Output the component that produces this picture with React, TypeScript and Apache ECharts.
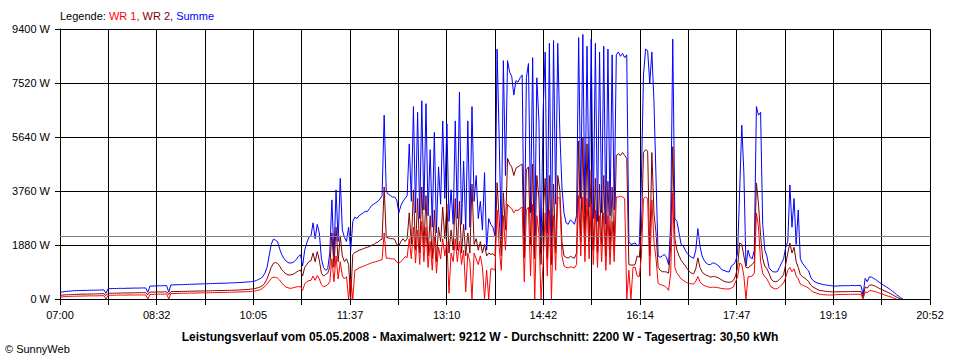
import React, { useEffect, useRef } from "react";
import * as echarts from "echarts";

// Sampling: one reading every 2 minutes, starting at 07:00
const STEP_MIN = 2;
const X_MAX_MIN = 832; // 07:00 .. 20:52
const X_TICK_COUNT = 18;
const X_TICK_LABELS = ["07:00", "08:32", "10:05", "11:37", "13:10", "14:42", "16:14", "17:47", "19:19", "20:52"];
const Y_MAX = 9400;
const Y_STEP = 1880;

const DAY = "05.05.2008";
const MAX_W = 9212;
const AVERAGE_W = 2200;
const YIELD_KWH = "30,50";

// WR 1 (red), W
const wr1 = [
  70, 75, 80, 85, 90, 90, 95, 95, 100, 100,
  100, 105, 105, 105, 110, 110, 110, 110, 110, 115,
  115, 115, 0, 130, 130, 130, 130, 135, 135, 135,
  135, 135, 135, 140, 140, 140, 140, 140, 140, 140,
  140, 140, 0, 160, 160, 165, 165, 165, 170, 170,
  170, 175, 0, 190, 190, 190, 195, 195, 195, 200,
  200, 200, 205, 205, 205, 210, 210, 210, 215, 215,
  215, 220, 220, 220, 225, 225, 225, 230, 230, 230,
  235, 235, 235, 240, 240, 245, 245, 250, 250, 255,
  255, 260, 265, 270, 290, 310, 330, 380, 440, 520,
  620, 720, 760, 750, 730, 660, 560, 480, 420, 390,
  372, 380, 400, 420, 430, 430, 300, 520, 600, 640,
  650, 800, 650, 820, 700, 500, 420, 450, 500, 600,
  1400, 600, 1500, 700, 1300, 800, 700, 780, 0, 700,
  0, 1000, 1030, 1080, 1110, 1140, 1170, 1200, 1230, 1260,
  1280, 1300, 1320, 1350, 1370, 2300, 1420, 1420, 1400, 1400,
  1390, 1280, 1240, 1300, 1380, 1470, 1450, 2100, 1400, 2500,
  1250, 2400, 1200, 2700, 1300, 2500, 1100, 2000, 1000, 2200,
  900, 1800, 1400, 2100, 1500, 2000, 200, 1600, 1300, 2100,
  1300, 2000, 1200, 1700, 250, 1600, 1300, 0, 1600, 1400,
  1200, 1500, 1100, 0, 1000, 0, 1050, 1050, 1000, 3100,
  1800, 1000, 2900, 1700, 3300, 3200, 3150, 3000, 3100, 3080,
  3150, 3200, 600, 3100, 3200, 800, 3300, 0, 2900, 2300,
  0, 1200, 3000, 800, 3100, 0, 2900, 1000, 3550, 3500,
  1500, 1150, 1100, 1080, 1120, 1100, 1080, 1200, 3600, 1500,
  3550, 1300, 3500, 1400, 3300, 1200, 3100, 1100, 2900, 1300,
  3000, 1000, 2900, 1200, 2700, 1300, 3550, 3550, 3580, 3550,
  3500, 0, 1000, 0, 1100, 1110, 800, 780, 1500, 3500,
  3550, 3500, 800, 3450, 2000, 1400, 550, 500, 480, 450,
  400, 300, 900, 3700, 1100, 900, 800, 700, 650, 600,
  560, 540, 530, 520, 620, 780, 600, 520, 470, 440,
  420, 400, 410, 410, 400, 390, 370, 360, 350, 350,
  350, 380, 420, 600, 770, 1250, 1200, 800, 0, 770,
  780, 800, 900, 2990, 2500, 1300, 900, 780, 700, 560,
  420, 380, 350, 360, 420, 480, 560, 750, 1000, 1100,
  950, 1050, 800, 700, 520, 480, 450, 420, 380, 300,
  250, 220, 200, 170, 160, 150, 145, 140, 140, 140,
  140, 150, 155, 155, 160, 160, 160, 160, 165, 165,
  165, 165, 165, 160, 0, 250, 220, 290, 290, 270,
  250, 230, 200, 180, 150, 120, 100, 80, 50, 20,
  0,
];

// WR 2 (dark red), W
const wr2 = [
  130, 135, 140, 145, 150, 150, 155, 160, 160, 165,
  165, 170, 170, 170, 175, 175, 175, 180, 180, 180,
  185, 185, 120, 200, 200, 200, 205, 205, 205, 205,
  210, 210, 210, 210, 215, 215, 215, 215, 220, 220,
  220, 220, 150, 240, 240, 240, 245, 245, 245, 245,
  250, 250, 160, 255, 255, 260, 260, 260, 265, 265,
  265, 270, 270, 270, 275, 275, 275, 280, 280, 280,
  285, 285, 285, 290, 290, 290, 295, 295, 295, 300,
  300, 300, 305, 305, 310, 310, 315, 320, 325, 330,
  335, 340, 350, 360, 380, 400, 430, 470, 560, 700,
  900, 1100, 1240, 1270, 1240, 1150, 1020, 950, 880, 840,
  835, 850, 880, 930, 980, 1010, 800, 1100, 1200, 1300,
  1330, 1600, 1300, 1650, 1350, 900, 800, 850, 900, 1100,
  2300, 1100, 2500, 1300, 2200, 1500, 1300, 1400, 1200, 0,
  1550, 1620, 1650, 1700, 1720, 1750, 1780, 1800, 1830, 1870,
  1900, 1950, 1980, 2050, 2080, 3900, 2150, 2130, 2100, 2100,
  2080, 1900, 1850, 2000, 2100, 2000, 2100, 3000, 1900, 3800,
  1700, 3500, 1600, 3900, 1800, 3600, 1500, 2900, 1400, 3100,
  1300, 2500, 2000, 3200, 2100, 3300, 1600, 2400, 1700, 3500,
  1700, 3400, 1600, 2600, 1500, 2300, 1600, 4000, 1900, 2100,
  1700, 2000, 1600, 1900, 1500, 1600, 1550, 1580, 1500, 4050,
  2800, 1500, 3700, 2400, 4900, 4700, 4600, 4300, 4550, 4600,
  4650, 4700, 1430, 4500, 4600, 1900, 4700, 1400, 4300, 3500,
  1200, 3000, 4200, 1400, 4300, 1200, 4000, 1600, 4300, 3800,
  2000, 1500, 1450, 1420, 1480, 1450, 1420, 1600, 5500, 2000,
  5600, 1900, 5400, 2000, 4500, 1700, 4200, 1600, 4000, 1900,
  4300, 1500, 4100, 1700, 3900, 1800, 5000, 5050, 5000, 5100,
  5000, 4900, 1200, 1180, 1180, 1200, 1500, 1450, 2400, 5100,
  5200, 5150, 1500, 5100, 3000, 2300, 1100, 1000, 950, 950,
  940, 900, 1800, 5300, 2100, 1700, 1500, 1350, 1250, 1150,
  1050, 950, 900, 880, 1050, 1430, 1100, 950, 870, 830,
  800, 760, 780, 780, 760, 730, 680, 640, 600, 590,
  580, 600, 650, 800, 1100, 1950, 1900, 1500, 1100, 1080,
  1150, 1200, 1300, 4040, 3300, 2200, 1400, 1150, 1050, 900,
  700, 620, 600, 620, 680, 750, 850, 1200, 1600, 1950,
  1600, 1800, 1300, 1100, 850, 780, 730, 680, 600, 480,
  420, 380, 340, 300, 290, 280, 270, 260, 255, 250,
  250, 250, 250, 250, 255, 255, 255, 255, 260, 260,
  260, 260, 260, 255, 60, 420, 380, 480, 490, 470,
  440, 400, 360, 330, 290, 260, 230, 190, 150, 110,
  70, 30, 0,
];

// Summe (blue), W
const summe = [
  235, 245, 255, 265, 270, 275, 285, 290, 290, 295,
  295, 300, 300, 300, 305, 305, 305, 310, 310, 310,
  315, 315, 200, 360, 360, 365, 365, 365, 370, 370,
  370, 370, 375, 375, 375, 380, 380, 380, 380, 385,
  385, 385, 230, 450, 450, 455, 455, 460, 460, 460,
  465, 465, 240, 490, 490, 495, 495, 500, 500, 500,
  505, 510, 510, 515, 515, 520, 520, 525, 525, 530,
  530, 535, 535, 540, 540, 545, 545, 550, 550, 550,
  555, 560, 560, 565, 570, 570, 575, 580, 585, 590,
  595, 600, 610, 620, 650, 680, 720, 780, 900, 1100,
  1500, 1900, 2080, 2050, 2000, 1750, 1550, 1420, 1330, 1270,
  1250, 1260, 1300, 1380, 1480, 1540, 1150, 1700, 1950, 2150,
  2200, 2650, 2100, 2600, 2300, 1400, 1100, 1000, 1050, 1600,
  3450, 1500, 3800, 2000, 4200, 2400, 2150, 2000, 2500, 1700,
  2700, 2850, 2800, 2900, 2950, 3000, 3050, 3050, 3150, 3250,
  3300, 3350, 3400, 3480, 3600, 6400, 3750, 3650, 3600, 3550,
  3550, 3450, 3000, 3250, 3400, 3500, 3600, 5400, 3400, 6700,
  3000, 6500, 2800, 6900, 3100, 6800, 2900, 5200, 2500, 5800,
  2300, 4600, 3300, 6200, 3500, 6100, 2700, 3800, 2600, 6200,
  2800, 7200, 2600, 4800, 2400, 6200, 2500, 6700, 3400, 4300,
  2800, 3400, 2400, 4400, 1700, 2800, 2600, 2500, 2200, 8700,
  5600, 2100, 8300, 4300, 8300, 7900, 7750, 7100, 7600, 7550,
  7700, 7800, 1450, 7700, 8200, 3000, 8400, 2200, 7700, 6200,
  1600, 6500, 8600, 2300, 8900, 1800, 9000, 3300, 8900, 5800,
  3900, 3000, 2650, 2600, 2750, 2700, 2600, 2900, 9100, 3500,
  9212, 3000, 8800, 3200, 9050, 2800, 8900, 2700, 8600, 3000,
  8800, 2600, 8700, 2900, 8500, 3100, 8500, 8600, 8450, 8550,
  8400, 8500, 2000, 1900, 1920, 1950, 1850, 1900, 4200, 7800,
  8700, 8650, 7500, 8600, 6900, 4200, 1500, 1450, 1500, 1550,
  1450, 1200, 2600, 9050, 2800, 2700, 2300, 1900, 1850, 1700,
  1580, 1500, 1450, 1420, 1700, 2450, 1850, 1500, 1350, 1250,
  1200, 1200, 1250, 1250, 1200, 1150, 1050, 1000, 980, 950,
  940, 1150, 1200, 1300, 1600, 3800, 6050, 4400, 1150, 1700,
  1450, 1400, 1700, 6700, 6400, 6500, 2600, 1700, 1500, 1100,
  1000, 950, 940, 950, 1100, 1250, 1400, 1800, 2000, 3970,
  2500, 3500, 1900, 3100, 1400, 1250, 1150, 1050, 980, 750,
  650, 600, 560, 540, 520, 500, 490, 480, 470, 460,
  450, 450, 455, 460, 460, 465, 465, 460, 470, 470,
  465, 470, 470, 460, 150, 720, 600, 770, 760, 720,
  680, 620, 570, 520, 470, 430, 380, 330, 270, 220,
  150, 100, 40, 0,
];

const FONT = '"Liberation Sans", Arial, sans-serif';

const toPairs = (arr: number[]) => arr.map((v, i) => [i * STEP_MIN, v]);

export default function App() {
  const ref = useRef<HTMLDivElement>(null);

  useEffect(() => {
    if (!ref.current) return;
    const chart = echarts.init(ref.current, null, { renderer: "svg" });
    const xStep = X_MAX_MIN / X_TICK_COUNT;
    const black = { color: "#000000", width: 1 };
    const title =
      `Leistungsverlauf vom ${DAY} - Maximalwert: ${MAX_W} W - Durchschnitt: ${AVERAGE_W} W - Tagesertrag: ${YIELD_KWH} kWh`;

    chart.setOption({
      animation: false,
      backgroundColor: "#ffffff",
      textStyle: { fontFamily: FONT },
      grid: { left: 60, right: 30, top: 29, bottom: 61, containLabel: false, outerBoundsMode: "none" },
      xAxis: {
        type: "value",
        min: 0,
        max: X_MAX_MIN,
        interval: xStep,
        axisLine: { show: true, onZero: false, lineStyle: black },
        axisTick: { show: true, length: 6, lineStyle: black },
        splitLine: { show: true, lineStyle: black },
        axisLabel: {
          color: "#000000",
          fontSize: 11,
          fontFamily: FONT,
          margin: 10,
          showMinLabel: true,
          showMaxLabel: true,
          formatter: (v: number) => {
            const k = Math.round(v / xStep);
            return k % 2 === 0 ? X_TICK_LABELS[k / 2] ?? "" : "";
          },
        },
      },
      yAxis: {
        type: "value",
        min: 0,
        max: Y_MAX,
        interval: Y_STEP,
        axisLine: { show: true, lineStyle: black },
        axisTick: { show: true, length: 5, lineStyle: black },
        splitLine: { show: true, lineStyle: black },
        axisLabel: {
          color: "#000000",
          fontSize: 11,
          fontFamily: FONT,
          margin: 10,
          formatter: (v: number) => `${v} W`,
        },
      },
      series: [
        {
          name: "Summe",
          type: "line",
          data: toPairs(summe),
          showSymbol: false,
          symbol: "none",
          lineStyle: { color: "#0000ff", width: 1 },
          itemStyle: { color: "#0000ff" },
          z: 2,
        },
        {
          name: "WR 2",
          type: "line",
          data: toPairs(wr2),
          showSymbol: false,
          symbol: "none",
          lineStyle: { color: "#800000", width: 1 },
          itemStyle: { color: "#800000" },
          z: 3,
        },
        {
          name: "WR 1",
          type: "line",
          data: toPairs(wr1),
          showSymbol: false,
          symbol: "none",
          lineStyle: { color: "#ff0000", width: 1 },
          itemStyle: { color: "#ff0000" },
          z: 4,
          markLine: {
            silent: true,
            symbol: "none",
            label: { show: false },
            lineStyle: { color: "#808080", width: 1, type: "solid" },
            data: [{ yAxis: AVERAGE_W }],
            z: 5,
          },
        },
      ],
      graphic: [
        {
          type: "text",
          x: 60,
          y: 16,
          style: {
            text: "{k|Legende: }{r|WR 1,} {d|WR 2,} {b|Summe}",
            font: `11px ${FONT}`,
            fill: "#000000",
            textVerticalAlign: "middle",
            rich: {
              k: { fill: "#000000", fontSize: 11, fontFamily: FONT },
              r: { fill: "#ff0000", fontSize: 11, fontFamily: FONT },
              d: { fill: "#800000", fontSize: 11, fontFamily: FONT },
              b: { fill: "#0000ff", fontSize: 11, fontFamily: FONT },
            },
          },
        },
        {
          type: "text",
          x: 480,
          y: 337,
          style: {
            text: title,
            font: `bold 12px ${FONT}`,
            fill: "#000000",
            textAlign: "center",
            textVerticalAlign: "middle",
          },
        },
        {
          type: "text",
          x: 5,
          y: 349,
          style: {
            text: "© SunnyWeb",
            font: `11px ${FONT}`,
            fill: "#000000",
            textVerticalAlign: "middle",
          },
        },
      ],
    });

    return () => chart.dispose();
  }, []);

  return (
    <div
      ref={ref}
      style={{ position: "fixed", left: 0, top: 0, width: 960, height: 360, background: "#fff" }}
    />
  );
}
